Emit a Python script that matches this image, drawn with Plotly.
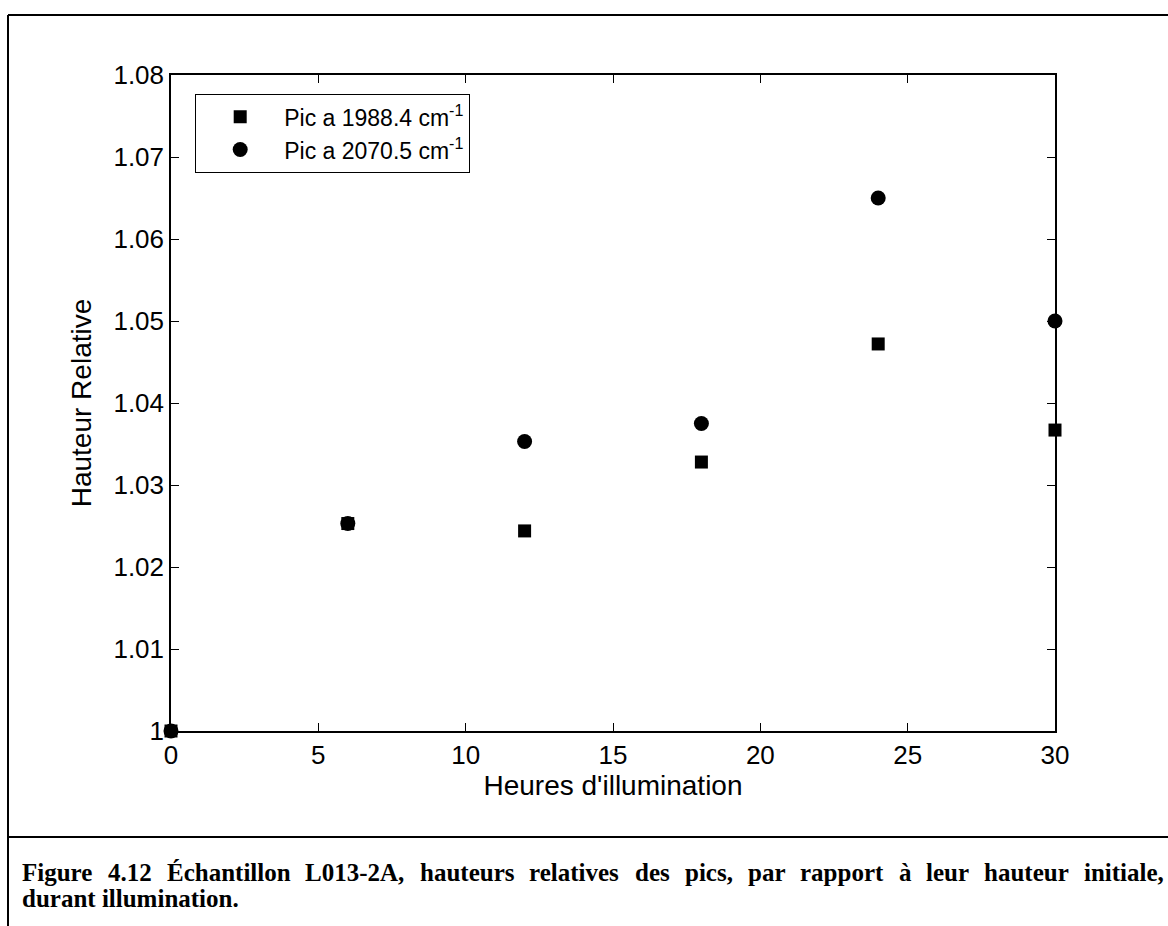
import plotly.graph_objects as go

# Relative peak heights during illumination
hours = [0, 6, 12, 18, 24, 30]
peak_1988 = [1.000, 1.0253, 1.0244, 1.0328, 1.0472, 1.0367]
peak_2070 = [1.000, 1.0253, 1.0353, 1.0375, 1.0650, 1.0500]

x_ticks = [0, 5, 10, 15, 20, 25, 30]
y_ticks = [1.00, 1.01, 1.02, 1.03, 1.04, 1.05, 1.06, 1.07, 1.08]
y_tick_text = ["1", "1.01", "1.02", "1.03", "1.04", "1.05", "1.06", "1.07", "1.08"]

series_names = ["Pic a 1988.4 cm<sup>-1</sup>", "Pic a 2070.5 cm<sup>-1</sup>"]

caption_line1 = ("Figure 4.12 Échantillon L013-2A, hauteurs relatives des pics, "
                 "par rapport à leur hauteur initiale,")
caption_line2 = "durant illumination."

W, H = 1168, 926
L, R, T, B = 171, 1055, 75, 731  # plot area edges in pixels


def px(xp):
    return (xp - L) / (R - L)


def py(yp):
    return (B - yp) / (B - T)


fig = go.Figure()
fig.add_trace(go.Scatter(
    x=hours, y=peak_2070, mode="markers", name=series_names[1],
    legendgroup="b", legendrank=2,
    marker=dict(symbol="circle", size=15, color="black"),
    cliponaxis=False,
))
fig.add_trace(go.Scatter(
    x=hours, y=peak_1988, mode="markers", name=series_names[0],
    legendgroup="a", legendrank=1,
    marker=dict(symbol="square", size=13, color="black"),
    cliponaxis=False,
))

sans = "Liberation Sans, Arial, Helvetica, sans-serif"
serif = "Liberation Serif, Times New Roman, serif"

axis_common = dict(
    showline=True, linecolor="black", linewidth=1.5, mirror="ticks",
    ticks="inside", ticklen=8, tickwidth=1.2, tickcolor="black",
    showgrid=False, zeroline=False,
    tickfont=dict(family=sans, size=26, color="black"),
)

fig.update_xaxes(
    range=[0, 30], tickvals=x_ticks,
    title=dict(text="Heures d'illumination", font=dict(family=sans, size=28, color="black"),
               standoff=6),
    **axis_common,
)
fig.update_yaxes(
    range=[1.0, 1.08], tickvals=y_ticks, ticktext=y_tick_text,
    title=dict(text="Hauteur Relative", font=dict(family=sans, size=28, color="black"),
               standoff=14),
    **axis_common,
)

# Times-Bold advance widths (per 1000 em) for justifying the caption
tb_widths = {
    " ": 250, "F": 611, "i": 278, "g": 500, "u": 556, "r": 444, "e": 444,
    "4": 500, ".": 250, "1": 500, "2": 500, "É": 667, "c": 444, "h": 556,
    "a": 500, "n": 556, "t": 333, "l": 278, "o": 500, "L": 667, "0": 500,
    "3": 500, "-": 333, "A": 722, ",": 250, "s": 389, "v": 500, "d": 556,
    "p": 556, "à": 500, "m": 833,
}
cap_size = 25
cap_left, cap_right = 20, 1162
line1_y, line2_y = 872, 898
cap_font = dict(family=serif, size=cap_size, color="black", weight="bold")


def word_width(w):
    return sum(tb_widths.get(ch, 500) for ch in w) * cap_size / 1000.0


annotations = []
words = caption_line1.split(" ")
total = sum(word_width(w) for w in words)
gap = (cap_right - cap_left - total) / (len(words) - 1)
xpos = cap_left
for w in words:
    annotations.append(dict(
        text=w, x=px(xpos), y=py(line1_y), xref="paper", yref="paper",
        xanchor="left", yanchor="middle", showarrow=False, font=cap_font,
    ))
    xpos += word_width(w) + gap
annotations.append(dict(
    text=caption_line2, x=px(cap_left), y=py(line2_y), xref="paper", yref="paper",
    xanchor="left", yanchor="middle", showarrow=False, font=cap_font,
))

# Page frame and caption separator
frame = dict(type="line", xref="paper", yref="paper", line=dict(color="black", width=2))
shapes = [
    dict(frame, x0=px(8), x1=px(8), y0=py(15), y1=py(H + 5)),
    dict(frame, x0=px(8), x1=px(W + 5), y0=py(15), y1=py(15)),
    dict(frame, x0=px(8), x1=px(W + 5), y0=py(837), y1=py(837)),
]

fig.update_layout(
    width=W, height=H,
    margin=dict(l=L, r=W - R, t=T, b=H - B, autoexpand=False),
    paper_bgcolor="white", plot_bgcolor="white",
    showlegend=True,
    legend=dict(
        x=px(195), y=py(94), xanchor="left", yanchor="top",
        bgcolor="white", bordercolor="black", borderwidth=1.2,
        font=dict(family=sans, size=23, color="black"),
        itemwidth=78, tracegroupgap=10, traceorder="normal",
    ),
    annotations=annotations,
    shapes=shapes,
)

fig.write_html("out.html")
